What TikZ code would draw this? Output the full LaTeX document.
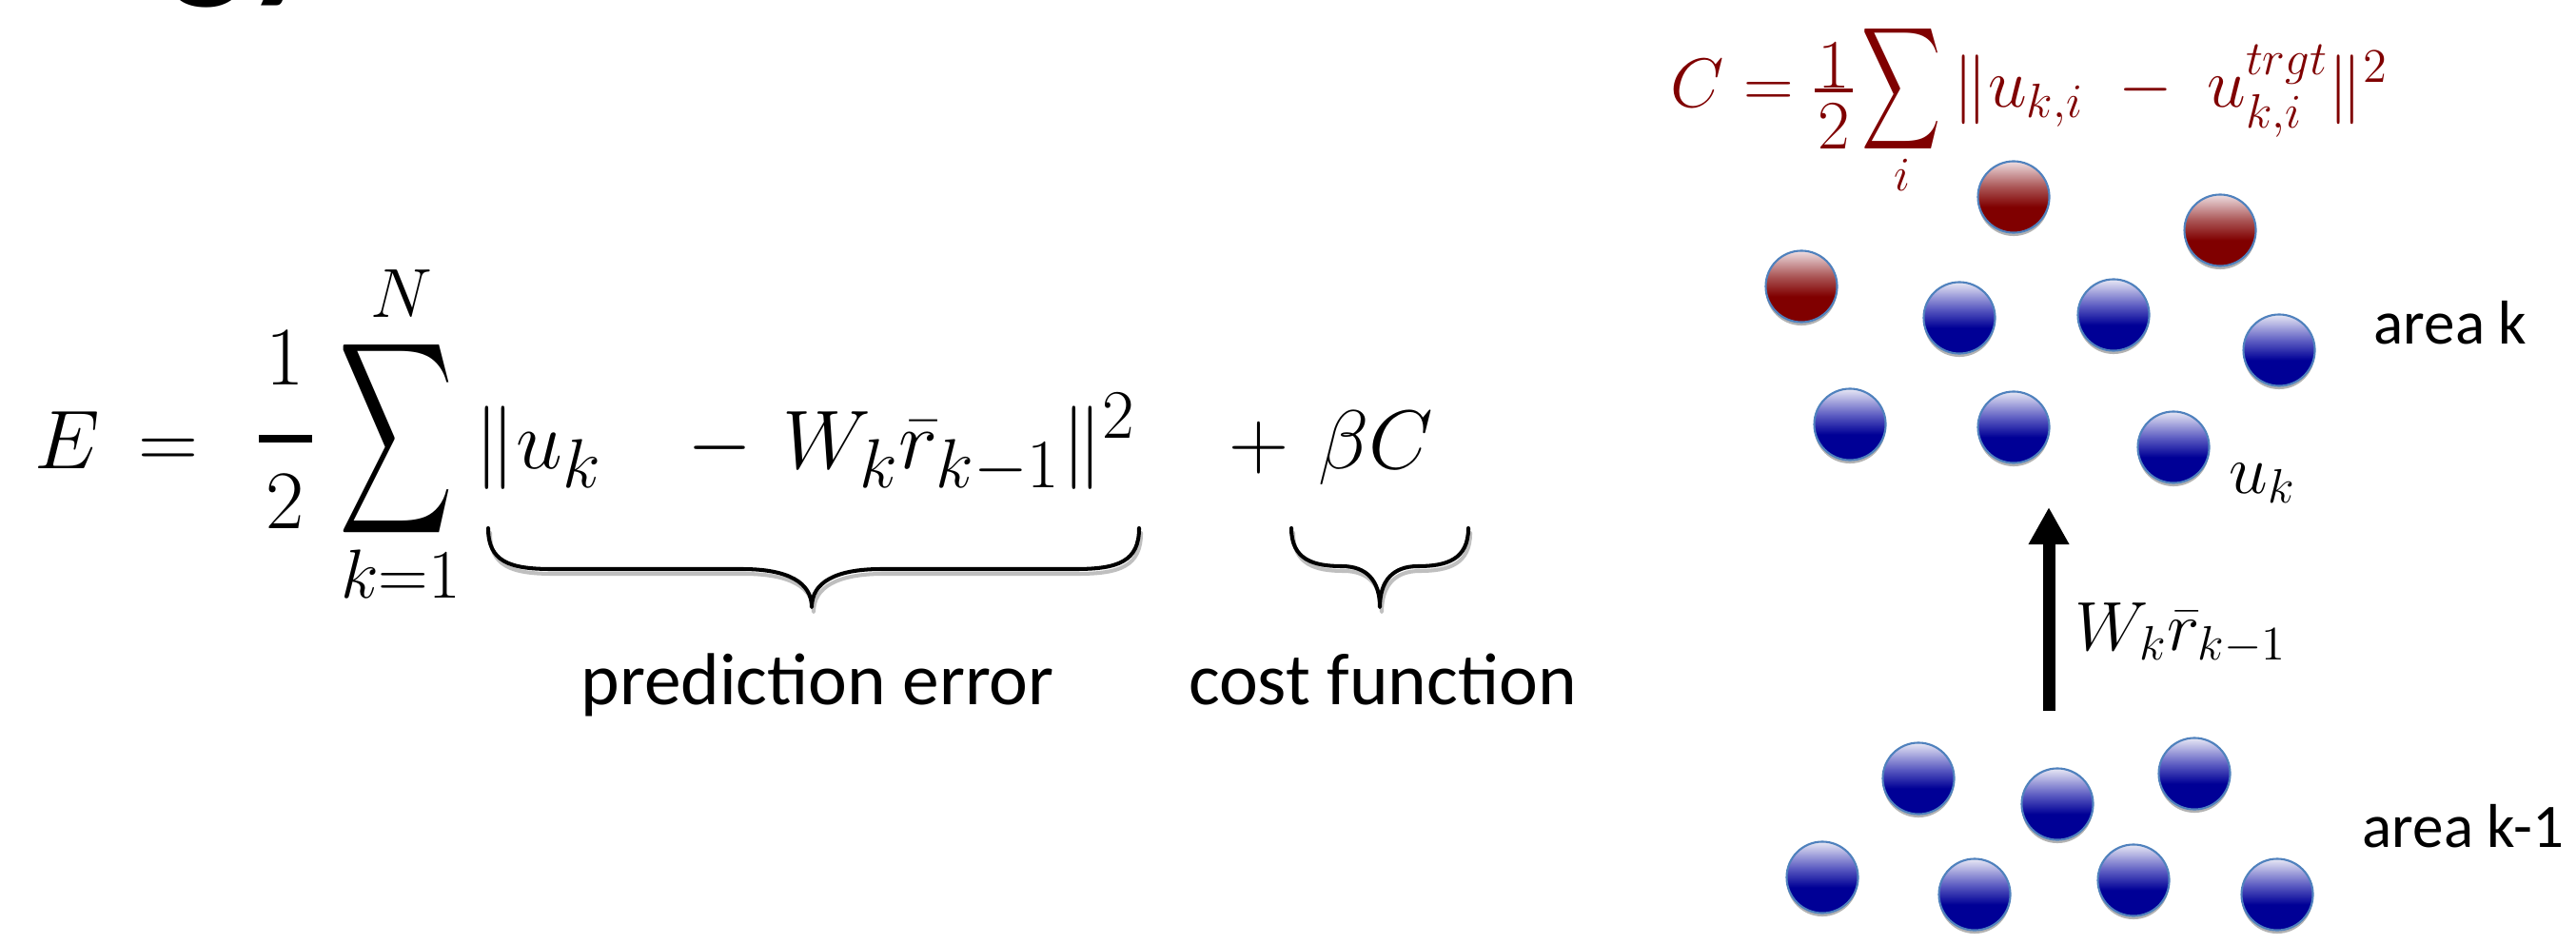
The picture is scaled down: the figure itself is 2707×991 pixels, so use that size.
\documentclass[tikz,border=0pt]{standalone}
\usepackage[no-math]{fontspec}
\setmainfont{Carlito}
\usepackage{amsmath}
\usepackage{graphicx}
\usetikzlibrary{arrows.meta,shadows}
\definecolor{cdred}{RGB}{128,0,0}
\definecolor{bdark}{RGB}{0,0,150}
\definecolor{bmid}{RGB}{95,95,195}
\definecolor{blight}{RGB}{232,232,245}
\definecolor{rdark}{RGB}{128,0,0}
\definecolor{rmid}{RGB}{170,85,85}
\definecolor{rlight}{RGB}{238,222,226}
\definecolor{ballline}{RGB}{79,129,189}
\pgfdeclareverticalshading{blueballsh}{100bp}{color(0bp)=(bdark); color(25bp)=(bdark); color(43bp)=(bdark); color(57bp)=(bmid); color(75bp)=(blight); color(100bp)=(blight)}
\pgfdeclareverticalshading{redballsh}{100bp}{color(0bp)=(rdark); color(25bp)=(rdark); color(43bp)=(rdark); color(57bp)=(rmid); color(75bp)=(rlight); color(100bp)=(rlight)}
\newcommand\mybraces[1]{%
  \draw[#1] (513,555) .. controls (513,590) and (535,598) .. (580,598) -- (780,598)
     .. controls (828,598) and (853,612) .. (853,638)
     .. controls (853,612) and (878,598) .. (926,598) -- (1130,598)
     .. controls (1175,598) and (1197,590) .. (1197,555);
  \draw[#1] (1357,555) .. controls (1357,588) and (1380,595) .. (1410,595)
     .. controls (1436,595) and (1450,610) .. (1450,638)
     .. controls (1450,610) and (1464,595) .. (1490,595)
     .. controls (1520,595) and (1543,588) .. (1543,555);
}
\begin{document}
\begin{tikzpicture}[x=0.01cm,y=-0.01cm,
  meq/.style={font=\fontsize{30}{36}\selectfont, inner sep=0pt},
  msub/.style={font=\fontsize{20}{24}\selectfont, inner sep=0pt},
  cf/.style={font=\fontsize{19.5}{23}\selectfont, text=cdred, inner sep=0pt},
  lab/.style={font=\fontsize{21}{25}\selectfont, inner sep=0pt},
  txt/.style={font=\fontsize{22}{26}\selectfont, inner sep=0pt},
  atxt/.style={font=\fontsize{18.5}{22}\selectfont, inner sep=0pt},
  ball/.style={circle, minimum size=0.75cm, inner sep=0pt, draw=ballline, line width=0.6pt,
    drop shadow={shadow xshift=0pt, shadow yshift=-1pt, opacity=0.3, fill=black}},
  bball/.style={ball, shading=blueballsh},
  rball/.style={ball, shading=redballsh},
  bracestyle/.style={line width=1.15pt, line join=round, line cap=round}]
\useasboundingbox (0,0) rectangle (2707,991);
\fill[white] (0,0) rectangle (2707,991);
% title fragment
\begin{scope}
  \clip (0,0) rectangle (2707,991);
  \node[font=\bfseries\fontsize{48}{54}\selectfont, anchor=base west, inner sep=0pt] (ttl) at (178,-20) {gy};
\end{scope}
% main equation
\node[meq, anchor=base west] (E) at (36,492) {$E$};
\node[meq, anchor=base] (eq) at (177,492) {$=$};
\node[meq, font=\fontsize{32}{38}\selectfont] (one) at (300,376) {$1$};
\node[meq, font=\fontsize{32}{38}\selectfont] (two) at (300,527) {$2$};
\draw[line width=2.2pt] (272,461) -- (328,461);
\node[font=\fontsize{29}{34}\selectfont, inner sep=0pt] (sum) at (417,461) {\scalebox{0.95}[1.61]{$\displaystyle\sum$}};
\node[msub] (N) at (422,309) {$N$};
\node[msub, anchor=base] (k1) at (421,628) {$k{=}1$};
\node[meq, anchor=base west] (nu) at (498,492) {$\|u_k$};
\node[meq, anchor=base] (mi) at (757,492) {$-$};
\node[meq, anchor=base west] (wr) at (822,492) {$W_k\bar{r}_{k-1}\|^2$};
\node[meq, anchor=base] (pl) at (1323,492) {$+$};
\node[meq, anchor=base west] (bc) at (1385,492) {$\beta C$};
% braces
\begin{scope}[shift={(2,5)}]
  \mybraces{bracestyle, black!25}
\end{scope}
\mybraces{bracestyle, black}
\node[txt, anchor=base] (pe) at (859,740) {prediction error};
\node[txt, anchor=base] (cfn) at (1453,740) {cost function};
% cost formula
\node[cf, anchor=base west] (C) at (1755,113) {$C=$};
\node[cf] (c1) at (1927,69) {$1$};
\node[cf] (c2) at (1927,133) {$2$};
\draw[cdred, line width=1.3pt] (1907,95) -- (1947,95);
\node[cf, font=\fontsize{17}{20}\selectfont] (cs) at (1998,93) {\scalebox{0.95}[1.48]{$\displaystyle\sum$}};
\node[cf, font=\fontsize{14}{16}\selectfont] (ci) at (1999,184) {$i$};
\node[cf, anchor=base west] (cn) at (2052,113) {$\|u_{k,i}\;-\;u^{trgt}_{k,i}\|^2$};
% area k
\node[rball] (r1) at (2116,207) {};
\node[rball] (r2) at (2333,242) {};
\node[rball] (r3) at (1893,301) {};
\node[bball] (u1) at (2059,334) {};
\node[bball] (u2) at (2221,331) {};
\node[bball] (u3) at (2395,368) {};
\node[bball] (u4) at (1944,446) {};
\node[bball] (u5) at (2116,449) {};
\node[bball] (u6) at (2284,470) {};
\node[atxt, anchor=base west] (ak) at (2494,361) {area k};
\node[lab, anchor=base west] (uk) at (2342,518) {$u_k$};
% area k-1
\node[bball] (l1) at (2016,818) {};
\node[bball] (l2) at (2162,845) {};
\node[bball] (l3) at (2306,813) {};
\node[bball] (l4) at (1915,922) {};
\node[bball] (l5) at (2075,940) {};
\node[bball] (l6) at (2242,925) {};
\node[bball] (l7) at (2393,940) {};
\node[atxt, anchor=base west] (ak1) at (2482,890) {area k-1};
% arrow
\coordinate (aS) at (2153,747);
\coordinate (aE) at (2153,533);
\draw[line width=3.7pt, -{Triangle[length=0.39cm,width=0.40cm]}] (aS) -- (aE);
\node[lab, anchor=base west, font=\fontsize{22}{26}\selectfont] (wl) at (2180,683) {$W_k\bar{r}_{k-1}$};
\end{tikzpicture}
\end{document}
